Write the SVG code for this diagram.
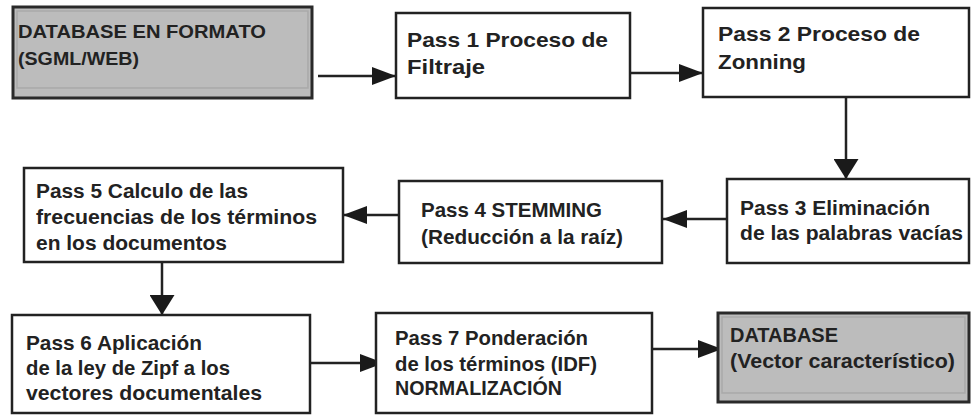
<svg xmlns="http://www.w3.org/2000/svg" width="971" height="419" viewBox="0 0 971 419">
<style>
.box{fill:#ffffff;stroke:#222;stroke-width:2.5}
.db{fill:#bcbcbc;stroke:#2a2a2a;stroke-width:3}
.dbin{fill:none;stroke:#a9a9a9;stroke-width:1.5}
.t{font-family:"Liberation Sans",Arial,sans-serif;font-weight:bold;font-size:20px;fill:#222}
.n{font-size:21px}
.c{stroke:#222;stroke-width:2.5;fill:none}
</style>
<defs>
<marker id="ah" markerUnits="userSpaceOnUse" markerWidth="24" markerHeight="18" viewBox="0 0 24 18" refX="24" refY="9" orient="auto"><path d="M0,0 L24,9 L0,18 Z" fill="#1a1a1a"/></marker>
<marker id="av" markerUnits="userSpaceOnUse" markerWidth="20" markerHeight="25" viewBox="0 0 20 25" refX="20" refY="12.5" orient="auto"><path d="M0,0 L20,12.5 L0,25 Z" fill="#1a1a1a"/></marker>
</defs>
<g id="connectors">
<line class="c" x1="318" y1="76" x2="396" y2="76" marker-end="url(#ah)"/>
<line class="c" x1="630" y1="73" x2="703" y2="73" marker-end="url(#ah)"/>
<line class="c" x1="846" y1="97" x2="846" y2="179" marker-end="url(#av)"/>
<line class="c" x1="736" y1="219" x2="663" y2="219" marker-end="url(#ah)"/>
<line class="c" x1="410" y1="215" x2="343" y2="215" marker-end="url(#ah)"/>
<line class="c" x1="162" y1="262" x2="162" y2="315" stroke-width="4.5" marker-end="url(#av)"/>
<line class="c" x1="310" y1="363" x2="384" y2="363" marker-end="url(#ah)"/>
<line class="c" x1="652" y1="349" x2="722" y2="349" marker-end="url(#ah)"/>
</g>
<g id="db_in">
<rect class="db" x="13" y="7" width="299" height="91"/>
<rect class="dbin" x="17" y="11" width="291" height="77"/>
<text class="t" style="font-size:18px"><tspan x="18" y="38" textLength="248" lengthAdjust="spacingAndGlyphs">DATABASE EN FORMATO</tspan><tspan x="18" y="65" textLength="121" lengthAdjust="spacingAndGlyphs">(SGML/WEB)</tspan></text>
</g>
<g id="pass1">
<rect class="box" x="396" y="13" width="234" height="85"/>
<text class="t n"><tspan x="407" y="47" textLength="201" lengthAdjust="spacingAndGlyphs">Pass 1 Proceso de</tspan><tspan x="407" y="74" textLength="78" lengthAdjust="spacingAndGlyphs">Filtraje</tspan></text>
</g>
<g id="pass2">
<rect class="box" x="703" y="8" width="266" height="89"/>
<text class="t n"><tspan x="718" y="41" textLength="202" lengthAdjust="spacingAndGlyphs">Pass 2 Proceso de</tspan><tspan x="718" y="69" textLength="88" lengthAdjust="spacingAndGlyphs">Zonning</tspan></text>
</g>
<g id="pass3">
<rect class="box" x="727" y="179" width="242" height="84"/>
<text class="t n"><tspan x="740" y="215" textLength="190" lengthAdjust="spacingAndGlyphs">Pass 3 Eliminación</tspan><tspan x="740" y="240" textLength="223" lengthAdjust="spacingAndGlyphs">de las palabras vacías</tspan></text>
</g>
<g id="pass4">
<rect class="box" x="399" y="181" width="263" height="82"/>
<text class="t n"><tspan x="421" y="217" textLength="181" lengthAdjust="spacingAndGlyphs">Pass 4 STEMMING</tspan><tspan x="421" y="244" textLength="202" lengthAdjust="spacingAndGlyphs">(Reducción a la raíz)</tspan></text>
</g>
<g id="pass5">
<rect class="box" x="24" y="168" width="319" height="94"/>
<text class="t"><tspan x="36" y="198" textLength="212" lengthAdjust="spacingAndGlyphs">Pass 5 Calculo de las</tspan><tspan x="36" y="224" textLength="281" lengthAdjust="spacingAndGlyphs">frecuencias de los términos</tspan><tspan x="36" y="250" textLength="191" lengthAdjust="spacingAndGlyphs">en los documentos</tspan></text>
</g>
<g id="pass6">
<rect class="box" x="12" y="315" width="298" height="98"/>
<text class="t n"><tspan x="26" y="350" textLength="176" lengthAdjust="spacingAndGlyphs">Pass 6 Aplicación</tspan><tspan x="26" y="375" textLength="204" lengthAdjust="spacingAndGlyphs">de la ley de Zipf a los</tspan><tspan x="26" y="400" textLength="236" lengthAdjust="spacingAndGlyphs">vectores documentales</tspan></text>
</g>
<g id="pass7">
<rect class="box" x="376" y="313" width="276" height="100"/>
<text class="t n"><tspan x="395" y="345" textLength="193" lengthAdjust="spacingAndGlyphs">Pass 7 Ponderación</tspan><tspan x="395" y="371" textLength="202" lengthAdjust="spacingAndGlyphs">de los términos (IDF)</tspan><tspan x="395" y="395" textLength="167" lengthAdjust="spacingAndGlyphs">NORMALIZACIÓN</tspan></text>
</g>
<g id="db_out">
<rect class="db" x="718" y="313" width="251" height="89"/>
<rect class="dbin" x="722" y="317" width="243" height="76"/>
<text class="t"><tspan x="730" y="342" textLength="108" lengthAdjust="spacingAndGlyphs">DATABASE</tspan><tspan x="730" y="368" textLength="225" lengthAdjust="spacingAndGlyphs">(Vector característico)</tspan></text>
</g>
</svg>
